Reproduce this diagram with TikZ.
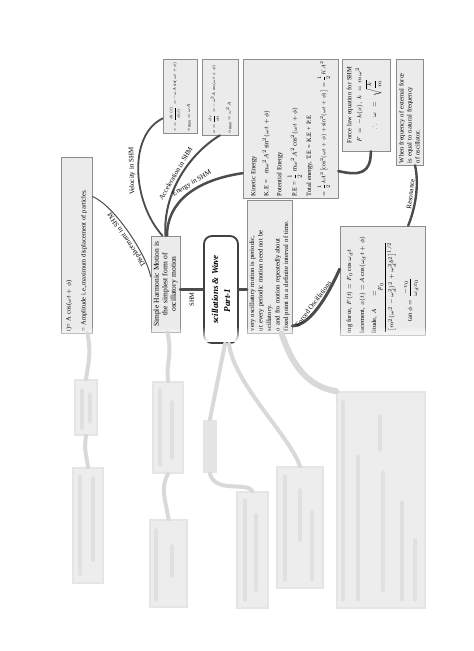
\documentclass[tikz,border=0pt]{standalone}
\usepackage{amsmath}
\usepackage{amssymb}
\usepackage{fontspec}
\setmainfont{Liberation Serif}
\usepackage{tikz}
\usetikzlibrary{calc}
\usetikzlibrary{positioning}
\usetikzlibrary{fadings}
\tikzset{
	leaf/.style={
		rectangle,
		draw=black!45, fill=black!8,
		line width=.6pt,
		rotate=90,
		inner sep=2pt,
		align=left,
		font=\fontsize{6.5}{8}\selectfont},
	hub/.style={leaf, align=center, font=\fontsize{7.5}{8.5}\selectfont},
	headbox/.style={
		rectangle,
		rounded corners=8pt,
		draw=black!75, line width=1.8pt,
		fill=white,
		rotate=90,
		align=center,
		font=\fontsize{9}{10}\selectfont\bfseries\itshape},
	branch/.style={draw=black!70, line cap=round},
	lbl/.style={font=\fontsize{7}{8}\selectfont, inner sep=2pt, sloped, allow upside down, above},
	ghost/.style={rectangle, fill=black!7, draw=black!10, line width=1.5pt, inner sep=0pt},
	ghostline/.style={draw=black!15, line width=4pt, line cap=round},
	smudge/.style={draw=black!12, line width=3.5pt, line cap=round},
}

\begin{document}
\begin{tikzpicture}[x=1pt,y=-1pt]
	\useasboundingbox (0,0) rectangle (474,651);
	% centre of the map
	\node[headbox, minimum width=107pt, minimum height=34pt] (title) at (221,289.5) {scillations \& Wave\\[2pt]Part-1\rule{22pt}{0pt}};
	\node[hub, text width=92pt, minimum height=29pt] (shm) at (165.5,284) {Simple Harmonic Motion is\\the simplest form of\\oscillatory motion};
	\node[leaf, text width=129pt, minimum height=45pt, font=\fontsize{6.6}{8.5}\selectfont] (def) at (269.5,266.5) {very oscillatory motion is periodic,\\ut every periodic motion need not be\\scillatory.\\o and fro motion repeatedly about\\fixed point in a definite interval of time.};
	
	% SHM leaves
	\node[leaf, text width=172pt, minimum height=31pt] (disp) at (76.5,245) {t)= A cos($\omega t+\phi$)\\[7pt]= Amplitude i.e.,maximum displacement of particles.};
	\node[leaf, text width=70pt, minimum height=34pt, font=\fontsize{5}{6}\selectfont] (vel) at (180,96) {\scalebox{.78}{$v=\dfrac{dx(t)}{d(t)}=-\omega A\sin(\omega t+\phi)$}\\[5pt]\scalebox{.85}{$v_{\max}=\omega A$}};
	\node[leaf, text width=72pt, minimum height=36pt, font=\fontsize{5}{6}\selectfont] (acc) at (220,97) {\scalebox{.8}{$a=\dfrac{dv}{dt}=-\omega^2A\cos(\omega t+\phi)$}\\[6pt]\scalebox{.85}{$a_{\max}=\omega^2A$}};
	\node[leaf, text width=135pt, minimum height=95pt] (ke) at (290.5,128.5) {Kinetic Energy\\[5pt]K.E =\quad m$\omega^2A^2\sin^2(\omega t+\phi)$\\[5pt]Potential Energy\\[4pt]P.E = $\dfrac{1}{2}$ m$\omega^2A^2\cos^2(\omega t+\phi)$\\[4pt]Total energy, T.E = K.E + P.E\\[4pt]\scalebox{.88}{$=\dfrac{1}{2}kA^2\bigl[\cos^2(\omega t+\phi)+\sin^2(\omega t+\phi)\bigr]=\dfrac{1}{2}KA^2$}};
	\node[leaf, text width=88pt, minimum height=48pt, align=center] (force) at (366,105) {Force law equation for SHM\\[2pt]$F=-k(x),\ k=m\omega^2$\\[2pt]$\therefore\ \omega=\sqrt{\dfrac{k}{m}}$\\[1pt]\mbox{}};
	\node[leaf, text width=102pt, minimum height=27pt] (res) at (409.5,112) {When frequency of external force\\is equal to natural frequency\\of oscillator.};
	\node[leaf, text width=105pt, minimum height=85pt] (forced) at (382.5,280.5) {ing force, $F(t)=F_0\cos\omega_d t$\\[5pt]lacement, $x(t)=A\cos(\omega_d t+\phi)$\\[4pt]litude, $A=\dfrac{F_0}{\left[m^2(\omega^2-\omega_d^2)^2+\omega_d^2b^2\right]^{1/2}}$\\[6pt]\hspace*{12pt}$\tan\phi=\dfrac{-v_0}{\omega_d x_0}$};
	
	% branches
	\draw[branch, line width=3.5pt] (title.north -| shm.south) -- (title.north)
		node[pos=.5, rotate=90, anchor=east, font=\fontsize{6.5}{8}\selectfont, inner sep=1pt] {SHM};
	\draw[branch, line width=3.5pt] (title.south) -- (title.south -| def.north);
	\draw[branch, line width=1pt] ($(shm.north)!0.15!(shm.north east)$) .. controls +(-4,-22) and +(22,9) .. ($(disp.south)!0.55!(disp.south east)$)
		node[lbl, pos=.45] {Displacement in SHM};
	\draw[branch, line width=1.8pt] ([xshift=-3pt]shm.east) .. controls +(-30,-33) and +(-35,17) .. ($(vel.north)!0.6!(vel.north west)$)
		node[lbl, pos=.5] {Velocity in SHM};
	\draw[branch, line width=2pt] (shm.east) .. controls +(-3,-43) and +(-30,18) .. (acc.west)
		node[lbl, pos=.5] {Acceleration in SHM};
	\draw[branch, line width=2.5pt] ([xshift=1.5pt]shm.east) .. controls +(0,-33) and +(-48,7) .. ($(ke.north)!0.64!(ke.north west)$)
		node[lbl, pos=.6] {Energy in SHM};
	\draw[branch, line width=2.6pt] ($(ke.south)!0.61!(ke.south west)$) .. controls +(22,5) and +(0,22) .. ($(force.west)!0.2!(force.south west)$);
	\draw[branch, line width=2.4pt] ($(forced.east)!0.6!(forced.south east)$) .. controls +(8,-20) and +(4,18) .. ($(res.west)!0.4!(res.south west)$)
		node[lbl, pos=.5] {Resonance};
	\draw[branch, line width=3pt] ($(def.south)!0.89!(def.south west)$) .. controls +(20,0) and +(-8,18) .. ($(forced.north)!0.21!(forced.north east)$)
		node[lbl, pos=.45] {Forced Oscillations};
	
	% blurred part of the page
	\fill[white, path fading=north] (0,326) rectangle (474,342);
	\node[ghost, minimum width=22pt, minimum height=55pt] (g1) at (86,407.5) {};
	\node[ghost, minimum width=30pt, minimum height=115pt] (g2) at (88,525.5) {};
	\node[ghost, minimum width=30pt, minimum height=91pt] (g3) at (168,427.5) {};
	\node[ghost, minimum width=37pt, minimum height=87pt] (g4) at (168.5,563.5) {};
	\node[ghost, draw=none, fill=black!10, minimum width=14pt, minimum height=53pt] (g5) at (210,446.5) {};
	\node[ghost, minimum width=31pt, minimum height=116pt] (g6) at (252.5,550) {};
	\node[ghost, minimum width=46pt, minimum height=121pt] (g7) at (300,527.5) {};
	\node[ghost, minimum width=88pt, minimum height=216pt] (g8) at (381,500) {};
	\draw[ghostline] ([xshift=11pt]disp.west) .. controls +(4,22) and +(2,-15) .. (g1.north);
	\draw[ghostline] (g1.south) .. controls +(-2,15) and +(-2,-15) .. (g2.north);
	\draw[ghostline] ([xshift=2pt]shm.west) .. controls +(5,25) and +(-2,-20) .. (g3.north);
	\draw[ghostline] (g3.south) .. controls +(-8,15) and +(-3,-20) .. (g4.north);
	\draw[ghostline] ([xshift=4pt]title.west) -- (g5.north);
	\draw[ghostline] (g5.south) .. controls +(5,20) and +(-5,-10) .. (g6.north);
	\draw[ghostline] ([xshift=8pt]title.west) .. controls +(5,40) and +(-10,-30) .. (g7.north);
	\draw[ghostline, line width=6pt] ([xshift=12pt]def.west) .. controls +(10,30) and +(-30,-5) .. (g8.north west);
	% smeared lines of text
	\foreach \x/\ya/\yb in {82/390/428, 90/394/422, 80/476/574, 93/478/560, 160/390/465, 172/402/458,
		156/530/600, 172/546/576, 245/500/600, 256/515/590, 285/476/580, 300/490/540, 312/512/580,
		343/402/600, 358/456/600, 380/416/450, 383/472/590, 402/502/600, 415/540/600}
		\draw[smudge] (\x,\ya) -- (\x,\yb);
\end{tikzpicture}
\end{document}
